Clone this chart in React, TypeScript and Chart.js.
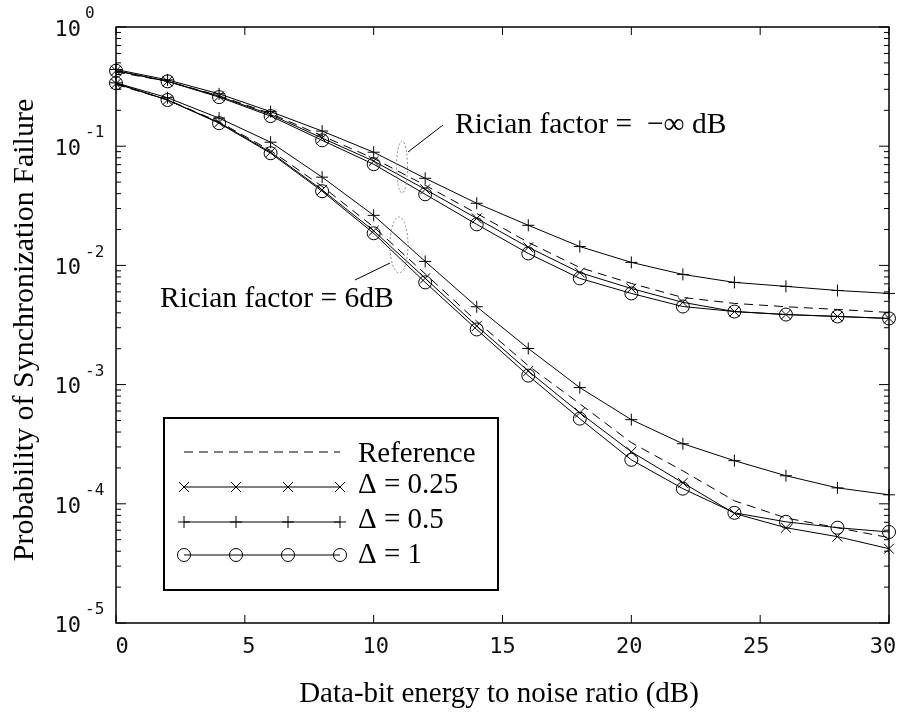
import React, { useEffect, useRef } from 'react';
import { Chart, registerables } from 'chart.js';

Chart.register(...registerables);

// ---------- data ----------
const snrDb = [0, 2, 4, 6, 8, 10, 12, 14, 16, 18, 20, 22, 24, 26, 28, 30];

// Rician factor = -inf dB
const refInf = [0.42, 0.35, 0.265, 0.188, 0.122, 0.079, 0.047, 0.0273, 0.0156, 0.0096, 0.00706, 0.00538, 0.0048, 0.0045, 0.00427, 0.00403];
const d025Inf = [0.43, 0.35, 0.262, 0.184, 0.117, 0.075, 0.0435, 0.0248, 0.0142, 0.0087, 0.0064, 0.0049, 0.0041, 0.00387, 0.00373, 0.00359];
const d05Inf = [0.44, 0.36, 0.275, 0.195, 0.134, 0.089, 0.0538, 0.0332, 0.0217, 0.0144, 0.0106, 0.0084, 0.0072, 0.00667, 0.00616, 0.00582];
const d1Inf = [0.43, 0.35, 0.258, 0.179, 0.112, 0.0706, 0.0395, 0.0221, 0.0126, 0.00778, 0.00582, 0.00452, 0.0041, 0.00387, 0.00373, 0.00359];

// Rician factor = 6 dB
const ref6 = [0.33, 0.245, 0.16, 0.092, 0.046, 0.021, 0.0085, 0.0034, 0.00144, 0.00069, 0.000326, 0.000189, 0.000106, 0.000076, 0.000063, 0.000052];
const d025Six = [0.335, 0.244, 0.158, 0.089, 0.043, 0.0195, 0.0078, 0.0031, 0.0013, 0.00058, 0.000273, 0.00015, 0.000083, 0.000063, 0.000053, 0.000042];
const d05Six = [0.34, 0.255, 0.172, 0.108, 0.055, 0.0263, 0.0108, 0.0045, 0.00201, 0.000944, 0.000508, 0.000319, 0.00023, 0.000172, 0.000136, 0.000119];
const d1Six = [0.338, 0.244, 0.156, 0.0873, 0.0419, 0.0186, 0.0072, 0.0029, 0.00119, 0.000518, 0.000234, 0.000134, 0.000084, 0.0000706, 0.000063, 0.000058];

const xTickValues = [0, 5, 10, 15, 20, 25, 30];
const yTickExponents = [0, -1, -2, -3, -4, -5];

const legendLabels = ['Reference', 'Δ = 0.25', 'Δ = 0.5', 'Δ = 1'];
const legendStyles = ['none', 'crossRot', 'cross', 'circle'];

const xTitle = 'Data-bit energy to noise ratio (dB)';
const yTitle = 'Probability of Synchronization Failure';
const noteInf = 'Rician factor =  −∞ dB';
const noteSix = 'Rician factor = 6dB';

// ---------- helpers ----------
const SERIF = '"Liberation Serif", "Times New Roman", serif';
const MONO = '"DejaVu Sans Mono", monospace';

function toPts(ys: number[]) {
  return snrDb.map((x, i) => ({ x, y: ys[i] }));
}

function drawMarker(ctx: CanvasRenderingContext2D, style: string, x: number, y: number) {
  ctx.beginPath();
  if (style === 'circle') {
    ctx.arc(x, y, 6.5, 0, Math.PI * 2);
  } else if (style === 'cross') {
    ctx.moveTo(x - 6, y); ctx.lineTo(x + 6, y);
    ctx.moveTo(x, y - 6); ctx.lineTo(x, y + 6);
  } else if (style === 'crossRot') {
    ctx.moveTo(x - 5, y - 5); ctx.lineTo(x + 5, y + 5);
    ctx.moveTo(x - 5, y + 5); ctx.lineTo(x + 5, y - 5);
  }
  ctx.stroke();
}

const overlayPlugin = {
  id: 'overlay',
  afterDraw(chart: any) {
    const { ctx, chartArea: a, scales } = chart;
    const xs = scales.x;
    const ys = scales.y;
    ctx.save();
    ctx.strokeStyle = '#000';
    ctx.fillStyle = '#000';

    // frame
    ctx.lineWidth = 1.5;
    ctx.strokeRect(a.left, a.top, a.right - a.left, a.bottom - a.top);

    // x ticks
    ctx.lineWidth = 1;
    ctx.beginPath();
    xTickValues.forEach((v) => {
      const px = xs.getPixelForValue(v);
      ctx.moveTo(px, a.bottom); ctx.lineTo(px, a.bottom - 8);
      ctx.moveTo(px, a.top); ctx.lineTo(px, a.top + 8);
    });
    // y ticks
    yTickExponents.forEach((e) => {
      const py = ys.getPixelForValue(Math.pow(10, e));
      ctx.moveTo(a.left, py); ctx.lineTo(a.left + 10, py);
      ctx.moveTo(a.right, py); ctx.lineTo(a.right - 10, py);
      if (e > -5) {
        for (let m = 2; m <= 9; m++) {
          const pm = ys.getPixelForValue(m * Math.pow(10, e - 1));
          ctx.moveTo(a.left, pm); ctx.lineTo(a.left + 5, pm);
          ctx.moveTo(a.right, pm); ctx.lineTo(a.right - 5, pm);
        }
      }
    });
    ctx.stroke();

    // x tick labels
    ctx.fillStyle = '#111';
    ctx.font = '22px ' + MONO;
    ctx.textAlign = 'center';
    ctx.textBaseline = 'middle';
    xTickValues.forEach((v) => {
      const px = xs.getPixelForValue(v);
      ctx.fillText(String(v), px + 6 - v * 0.4, a.bottom + 24);
    });

    // y tick labels (10^e)
    yTickExponents.forEach((e) => {
      const py = ys.getPixelForValue(Math.pow(10, e));
      ctx.font = '22px ' + MONO;
      ctx.textAlign = 'right';
      ctx.textBaseline = 'middle';
      ctx.fillText('10', a.left - 35, py + 3);
      ctx.font = '16px ' + MONO;
      ctx.textAlign = 'left';
      ctx.fillText(e === 0 ? '0' : '-' + String(-e), a.left - 31, py - 13);
    });
    ctx.fillStyle = '#000';

    // axis titles
    ctx.font = '29px ' + SERIF;
    ctx.textAlign = 'center';
    ctx.textBaseline = 'alphabetic';
    ctx.fillText(xTitle, 499, 702);
    ctx.save();
    ctx.translate(33, (a.top + a.bottom) / 2 + 5);
    ctx.rotate(-Math.PI / 2);
    ctx.font = '30px ' + SERIF;
    ctx.fillText(yTitle, 0, 0);
    ctx.restore();

    // annotations
    ctx.font = '29.5px ' + SERIF;
    ctx.textAlign = 'left';
    ctx.fillText(noteInf, 455, 133);
    ctx.fillText(noteSix, 160, 307);

    ctx.lineWidth = 1;
    ctx.beginPath();
    ctx.moveTo(408, 152); ctx.lineTo(443, 125);
    ctx.moveTo(390, 263); ctx.lineTo(355, 280);
    ctx.stroke();

    ctx.strokeStyle = '#888';
    ctx.setLineDash([2, 2]);
    ctx.beginPath();
    ctx.ellipse(402, 167, 5.5, 26, 0, 0, Math.PI * 2);
    ctx.stroke();
    ctx.beginPath();
    ctx.ellipse(399, 245, 9, 28, 0, 0, Math.PI * 2);
    ctx.stroke();
    ctx.setLineDash([]);

    // legend box
    const bx = 164, by = 418, bw = 334, bh = 172;
    ctx.fillStyle = '#fff';
    ctx.fillRect(bx, by, bw, bh);
    ctx.strokeStyle = '#000';
    ctx.lineWidth = 2;
    ctx.strokeRect(bx, by, bw, bh);
    ctx.fillStyle = '#000';
    const lineY = [452, 487, 522, 555];
    const textY = [462, 493, 528, 563];
    const x0 = 184, x1 = 340;
    legendLabels.forEach((lab, i) => {
      ctx.lineWidth = 1;
      if (i === 0) ctx.setLineDash([9, 6]);
      ctx.beginPath();
      ctx.moveTo(x0, lineY[i]); ctx.lineTo(x1, lineY[i]);
      ctx.stroke();
      ctx.setLineDash([]);
      if (legendStyles[i] !== 'none') {
        for (let k = 0; k < 4; k++) {
          drawMarker(ctx, legendStyles[i], x0 + (k * (x1 - x0)) / 3, lineY[i]);
        }
      }
      ctx.font = '29px ' + SERIF;
      ctx.textAlign = 'left';
      ctx.fillText(lab, 358, textY[i]);
    });

    ctx.restore();
  },
};

function makeSet(data: number[], style: string) {
  const base: any = {
    data: toPts(data),
    borderColor: '#000',
    borderWidth: 1,
    pointBorderColor: '#000',
    pointBackgroundColor: 'rgba(0,0,0,0)',
    pointBorderWidth: 1,
    tension: 0,
    clip: false,
    fill: false,
  };
  if (style === 'none') {
    base.borderDash = [9, 6];
    base.pointRadius = 0;
  } else {
    base.pointStyle = style;
    base.pointRadius = style === 'circle' ? 6.5 : style === 'cross' ? 6 : 7;
  }
  return base;
}

export default function App() {
  const ref = useRef<HTMLCanvasElement | null>(null);
  useEffect(() => {
    if (!ref.current) return;
    const chart = new Chart(ref.current, {
      type: 'line',
      data: {
        datasets: [
          makeSet(refInf, 'none'),
          makeSet(d025Inf, 'crossRot'),
          makeSet(d05Inf, 'cross'),
          makeSet(d1Inf, 'circle'),
          makeSet(ref6, 'none'),
          makeSet(d025Six, 'crossRot'),
          makeSet(d05Six, 'cross'),
          makeSet(d1Six, 'circle'),
        ],
      },
      options: {
        animation: false,
        responsive: false,
        devicePixelRatio: 1,
        layout: { padding: { left: 116, top: 27, right: 10, bottom: 89 } },
        plugins: { legend: { display: false }, tooltip: { enabled: false } },
        scales: {
          x: {
            type: 'linear',
            display: false,
            min: 0,
            max: 30,
          },
          y: {
            type: 'logarithmic',
            display: false,
            min: 1e-5,
            max: 1,
          },
        },
      },
      plugins: [overlayPlugin],
    });
    return () => chart.destroy();
  }, []);
  return (
    <div style={{ position: 'absolute', left: 0, top: 0, width: 899, height: 712, background: '#fff' }}>
      <canvas ref={ref} width={899} height={712} />
    </div>
  );
}
